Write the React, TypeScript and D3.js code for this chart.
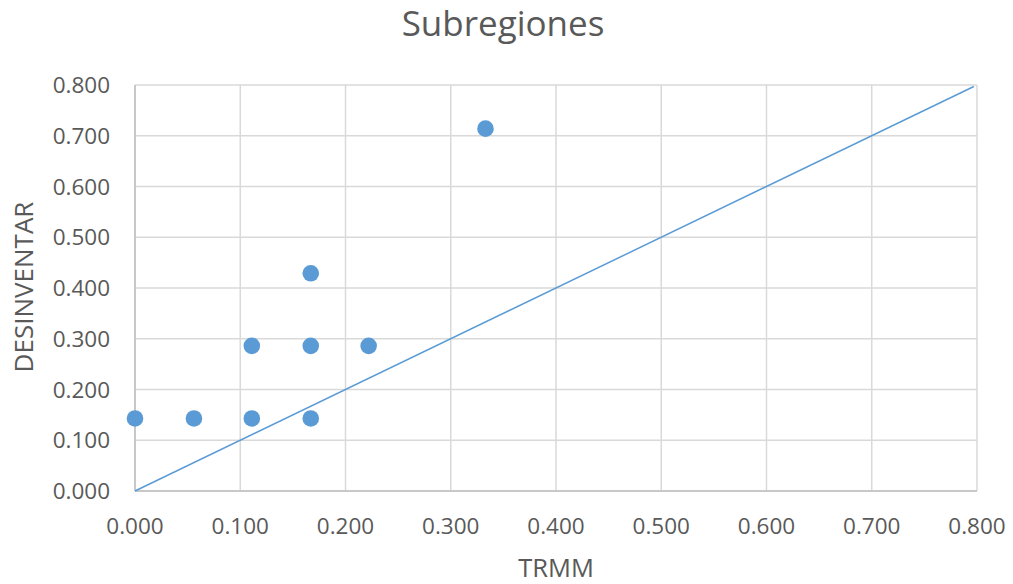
import React from "react";
import * as d3 from "d3";

const trmm = [0.0, 0.056, 0.111, 0.111, 0.167, 0.167, 0.167, 0.222, 0.333];
const desinventar = [0.143, 0.143, 0.143, 0.286, 0.143, 0.286, 0.429, 0.286, 0.714];
const lineX = [0, 0.797];
const ticks = [0, 0.1, 0.2, 0.3, 0.4, 0.5, 0.6, 0.7, 0.8];
const title = "Subregiones";
const xTitle = "TRMM";
const yTitle = "DESINVENTAR";

export default function App() {
  const W = 1013, H = 584;
  const left = 135, right = 977, top = 85, bottom = 491;
  const x = d3.scaleLinear().domain([0, 0.8]).range([left, right]);
  const y = d3.scaleLinear().domain([0, 0.8]).range([bottom, top]);
  const fmt = d3.format(".3f");
  const font = "'Open Sans', sans-serif";
  const blue = "#5B9BD5";
  const line = d3.line<number>().x((d) => x(d)).y((d) => y(d));
  return (
    <svg width={W} height={H} style={{ position: "absolute", left: 0, top: 0, background: "#fff" }} fontFamily={font}>
      <rect width={W} height={H} fill="#fff" />
      {ticks.map((t, i) => (
        <g key={"g" + i}>
          <line x1={x(t)} x2={x(t)} y1={top} y2={bottom} stroke="#D9D9D9" strokeWidth={1.5} />
          <line x1={left} x2={right} y1={y(t)} y2={y(t)} stroke="#D9D9D9" strokeWidth={1.5} />
        </g>
      ))}
      <line x1={left} x2={left} y1={top} y2={bottom} stroke="#BFBFBF" strokeWidth={1.5} />
      <line x1={left} x2={right} y1={bottom} y2={bottom} stroke="#BFBFBF" strokeWidth={1.5} />
      {ticks.map((t, i) => (
        <text key={"yt" + i} x={110} y={y(t) + 8} textAnchor="end" fontSize={22.5} fill="#595959">
          {fmt(t)}
        </text>
      ))}
      {ticks.map((t, i) => (
        <text key={"xt" + i} x={x(t)} y={534} textAnchor="middle" fontSize={22.5} fill="#595959">
          {fmt(t)}
        </text>
      ))}
      <path d={line(lineX) || ""} fill="none" stroke={blue} strokeWidth={1.5} />
      {trmm.map((v, i) => (
        <circle key={"p" + i} cx={x(v)} cy={y(desinventar[i])} r={8.3} fill={blue} />
      ))}
      <text x={503} y={36} textAnchor="middle" fontSize={35} fill="#595959">{title}</text>
      <text x={556} y={577} textAnchor="middle" fontSize={25.5} fill="#595959">{xTitle}</text>
      <text transform={`translate(33,287) rotate(-90)`} textAnchor="middle" fontSize={26} fill="#595959">{yTitle}</text>
    </svg>
  );
}
